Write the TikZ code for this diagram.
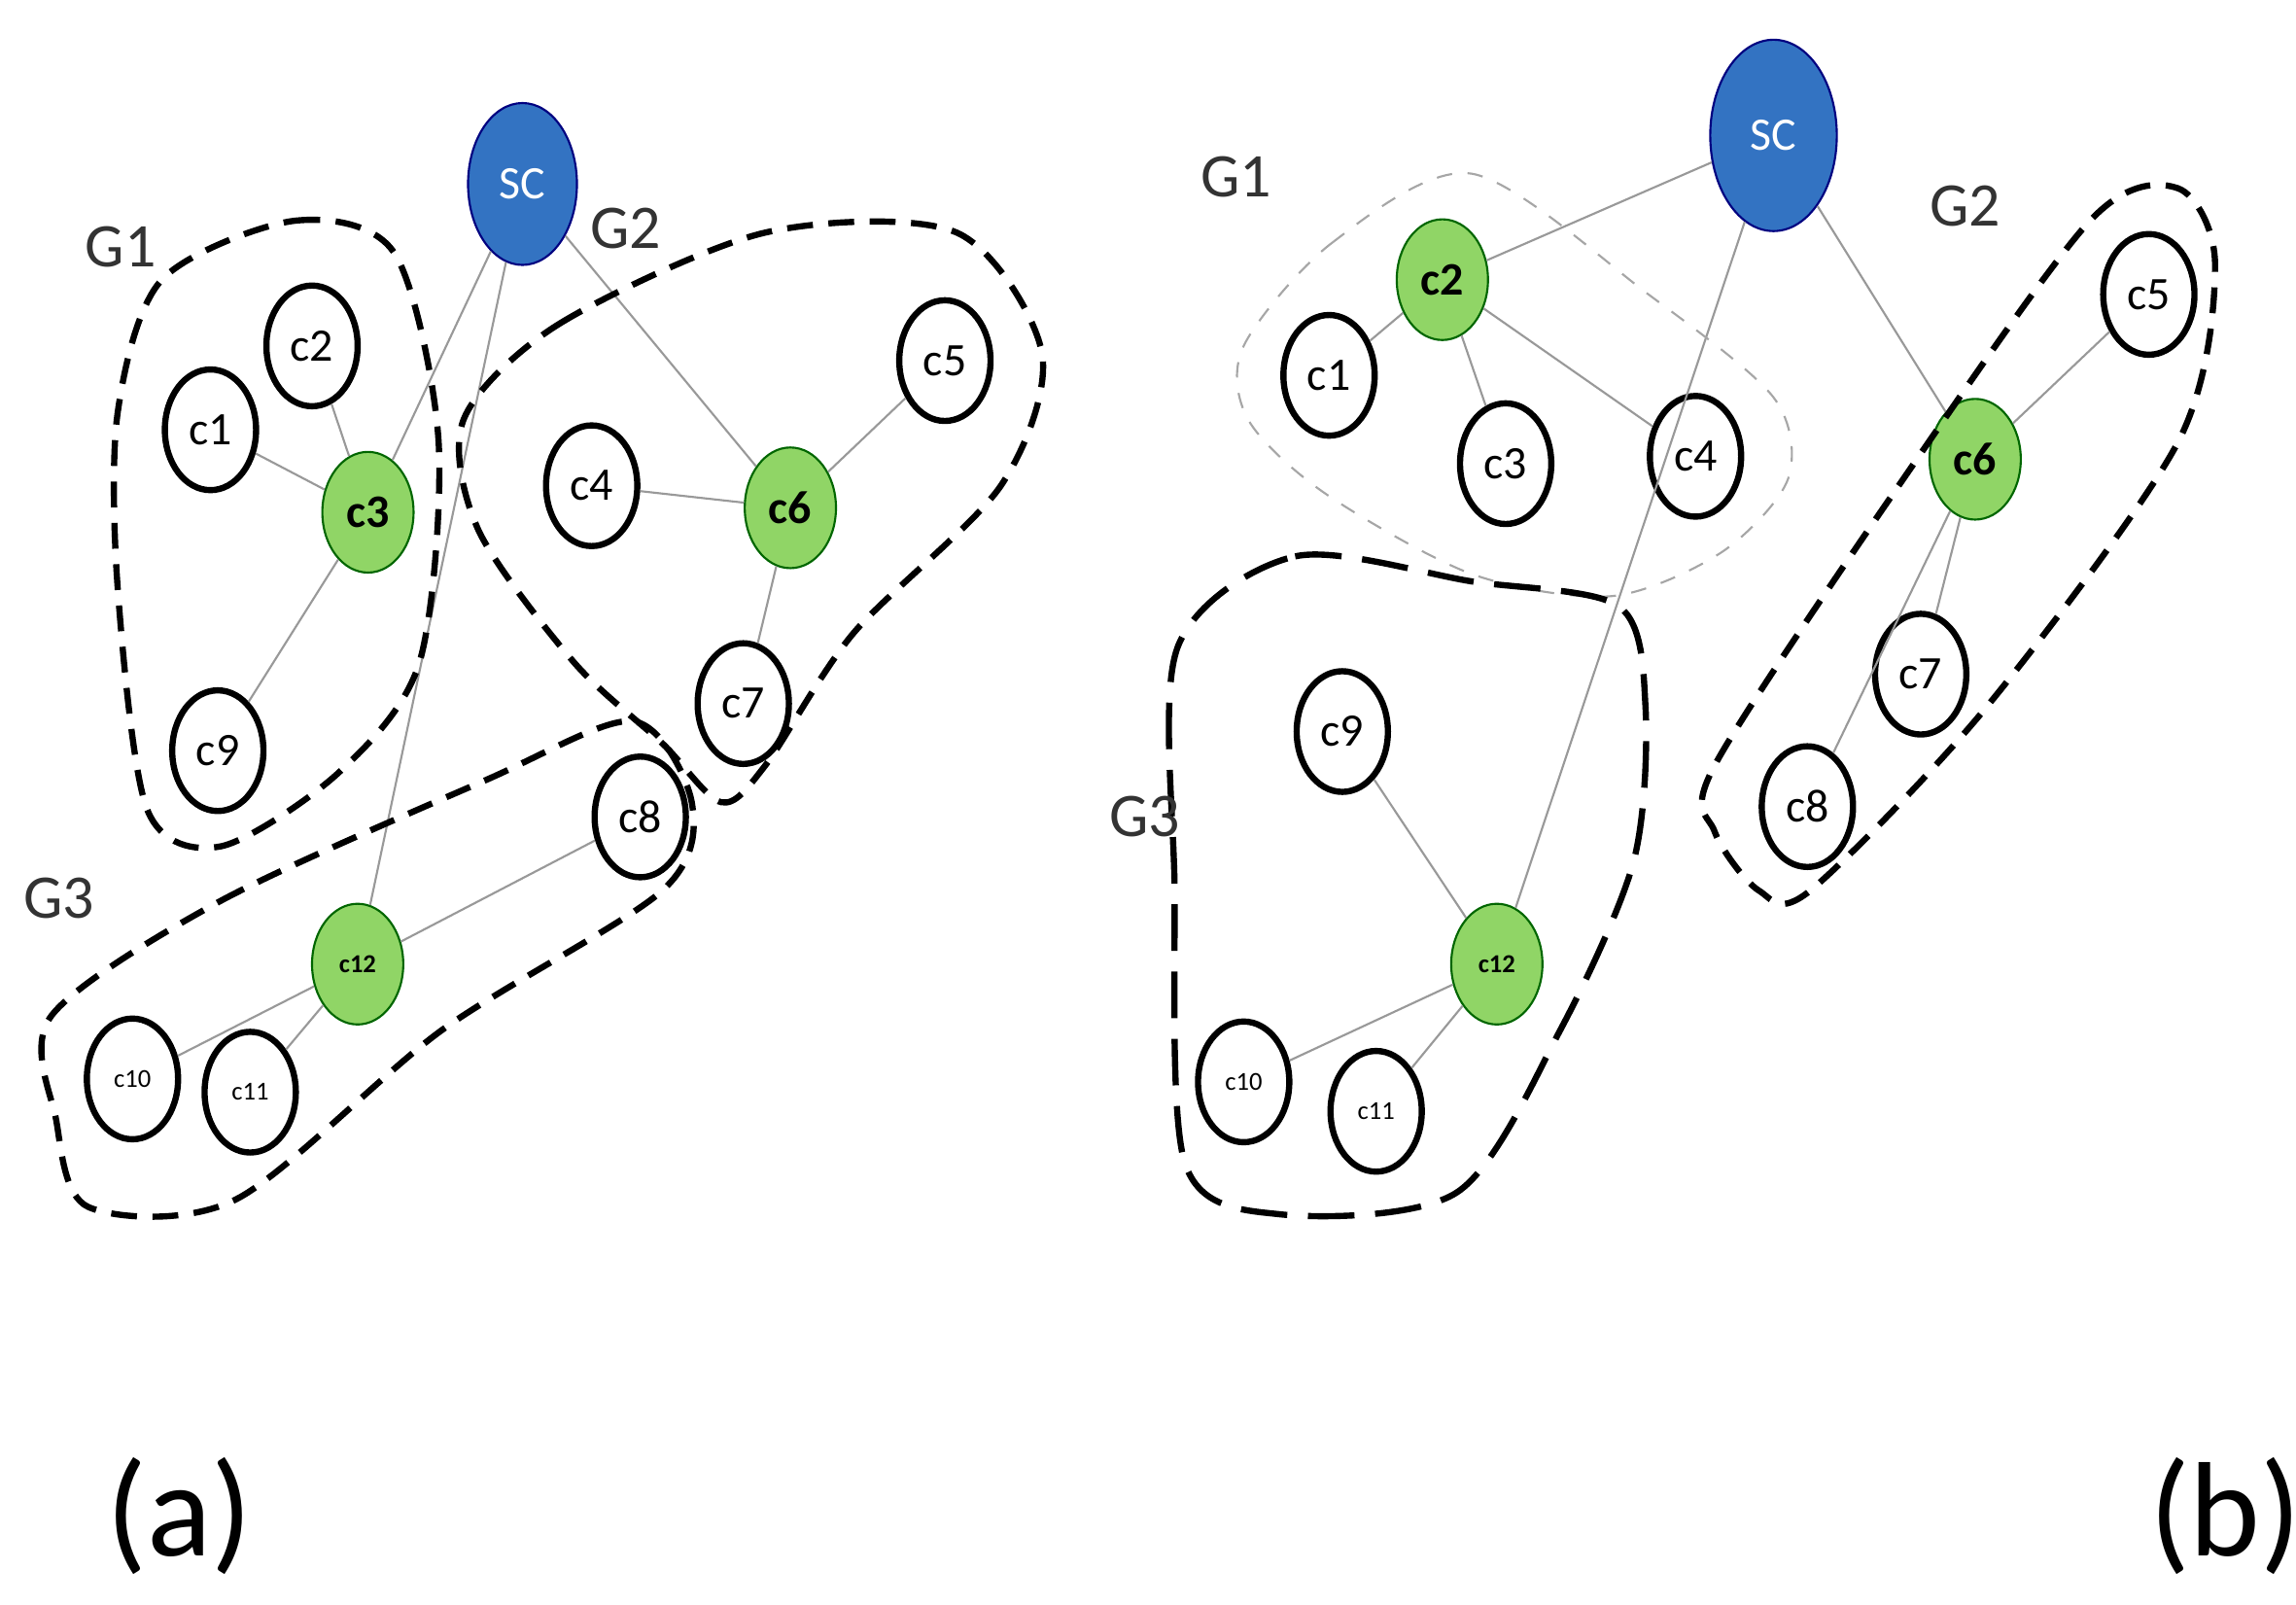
\documentclass[tikz,border=0pt]{standalone}
\usepackage{fontspec}
\setmainfont{Carlito}
\usetikzlibrary{shapes.geometric}
\tikzset{
  cl/.style={
    % The shape:
    ellipse,minimum width=6.2mm,minimum height=8.2mm,inner sep=0pt,
    % The border:
    very thick,draw=black,fill=white,
    font=\small},
  ch/.style={
    ellipse,minimum width=6.2mm,minimum height=8.2mm,inner sep=0pt,
    thin,draw=green!40!black,fill=green!45!olive!60,
    font=\small\bfseries},
  sc/.style={
    ellipse,inner sep=0pt,
    thin,draw=blue!50!black,fill=blue!55!cyan!70!black!80,
    text=white,font=\small},
  ln/.style={gray!80,thin},
  hull/.style={dashed,very thick,dash pattern=on 5pt off 3pt},
  glab/.style={font=\large,text=black!80}}
\begin{document}
\begin{tikzpicture}[x=0.1mm,y=-0.1mm]
	\useasboundingbox (0,0) rectangle (1560,1090);
	% Panel (a)
	\node[sc,minimum width=7.4mm,minimum height=11mm] (sca) at (355,125) {SC};
	\node[cl] (c1a) at (143,292) {c1};
	\node[cl] (c2a) at (212,235) {c2};
	\node[ch] (c3a) at (250,348) {c3};
	\node[cl] (c9a) at (148,510) {c9};
	\node[cl] (c4a) at (402,330) {c4};
	\node[ch] (c6a) at (537,345) {c6};
	\node[cl] (c5a) at (642,245) {c5};
	\node[cl] (c7a) at (505,478) {c7};
	\node[cl] (c8a) at (435,555) {c8};
	\node[ch,font=\tiny\bfseries] (c12a) at (243,655) {c12};
	\node[cl,font=\tiny] (c10a) at (90,733) {c10};
	\node[cl,font=\tiny] (c11a) at (170,742) {c11};
	% Lines out of sc
	\draw[ln] (sca) -- (c3a);
	\draw[ln] (sca) -- (c12a);
	\draw[ln] (sca) -- (c6a);
	% Lines into heads
	\draw[ln] (c1a) -- (c3a);
	\draw[ln] (c2a) -- (c3a);
	\draw[ln] (c9a) -- (c3a);
	\draw[ln] (c4a) -- (c6a);
	\draw[ln] (c5a) -- (c6a);
	\draw[ln] (c7a) -- (c6a);
	\draw[ln] (c8a) -- (c12a);
	\draw[ln] (c10a) -- (c12a);
	\draw[ln] (c11a) -- (c12a);
	% Groups
	\draw[hull] plot[smooth cycle] coordinates {(110,190) (200,150) (268,172) (298,300) (285,450) (230,525) (150,575) (100,550) (80,400) (80,280)};
	\draw[hull] plot[smooth cycle] coordinates {(315,285) (380,220) (520,158) (650,158) (708,240) (680,330) (580,430) (520,520) (490,545) (450,505) (390,450) (325,360)};
	\draw[hull] plot[smooth cycle] coordinates {(35,690) (150,612) (330,530) (430,490) (470,545) (450,605) (300,700) (160,815) (60,820) (38,760)};
	\node[glab] (g1a) at (82,168) {G1};
	\node[glab] (g2a) at (425,155) {G2};
	\node[glab] (g3a) at (40,610) {G3};
	% Panel (b)
	\node[sc,minimum width=8.6mm,minimum height=13mm] (scb) at (1205,92) {SC};
	\node[ch] (c2b) at (980,190) {c2};
	\node[cl] (c1b) at (903,255) {c1};
	\node[cl] (c3b) at (1023,315) {c3};
	\node[cl] (c4b) at (1152,310) {c4};
	\node[cl] (c9b) at (912,497) {c9};
	\node[ch,font=\tiny\bfseries] (c12b) at (1017,655) {c12};
	\node[cl,font=\tiny] (c10b) at (845,735) {c10};
	\node[cl,font=\tiny] (c11b) at (935,755) {c11};
	\node[ch] (c6b) at (1342,312) {c6};
	\node[cl] (c5b) at (1460,200) {c5};
	\node[cl] (c7b) at (1305,458) {c7};
	\node[cl] (c8b) at (1228,548) {c8};
	% Lines out of sc
	\draw[ln] (scb) -- (c2b);
	\draw[ln] (scb) -- (c12b);
	\draw[ln] (scb) -- (c6b);
	% Lines into heads
	\draw[ln] (c1b) -- (c2b);
	\draw[ln] (c3b) -- (c2b);
	\draw[ln] (c4b) -- (c2b);
	\draw[ln] (c9b) -- (c12b);
	\draw[ln] (c10b) -- (c12b);
	\draw[ln] (c11b) -- (c12b);
	\draw[ln] (c5b) -- (c6b);
	\draw[ln] (c7b) -- (c6b);
	\draw[ln] (c8b) -- (c6b);
	% Groups
	\draw[gray!70,dashed,thin] plot[smooth cycle] coordinates {(845,235) (905,165) (1000,118) (1120,200) (1205,270) (1215,325) (1170,375) (1095,405) (1000,390) (900,335) (848,285)};
	\draw[very thick,dash pattern=on 9pt off 4pt] plot[smooth cycle] coordinates {(800,440) (880,378) (1000,395) (1100,412) (1118,480) (1110,585) (1060,700) (990,810) (870,825) (805,790) (798,600)};
	\draw[hull] plot[smooth cycle] coordinates {(1165,520) (1290,330) (1420,150) (1480,128) (1505,180) (1480,300) (1350,480) (1230,605) (1195,605) (1165,565)};
	\node[glab] (g1b) at (840,120) {G1};
	\node[glab] (g2b) at (1335,140) {G2};
	\node[glab] (g3b) at (778,555) {G3};
	% Captions
	\node[font=\fontsize{26}{30}\selectfont] (capa) at (122,1030) {(a)};
	\node[font=\fontsize{26}{30}\selectfont] (capb) at (1512,1030) {(b)};
\end{tikzpicture}
\end{document}
